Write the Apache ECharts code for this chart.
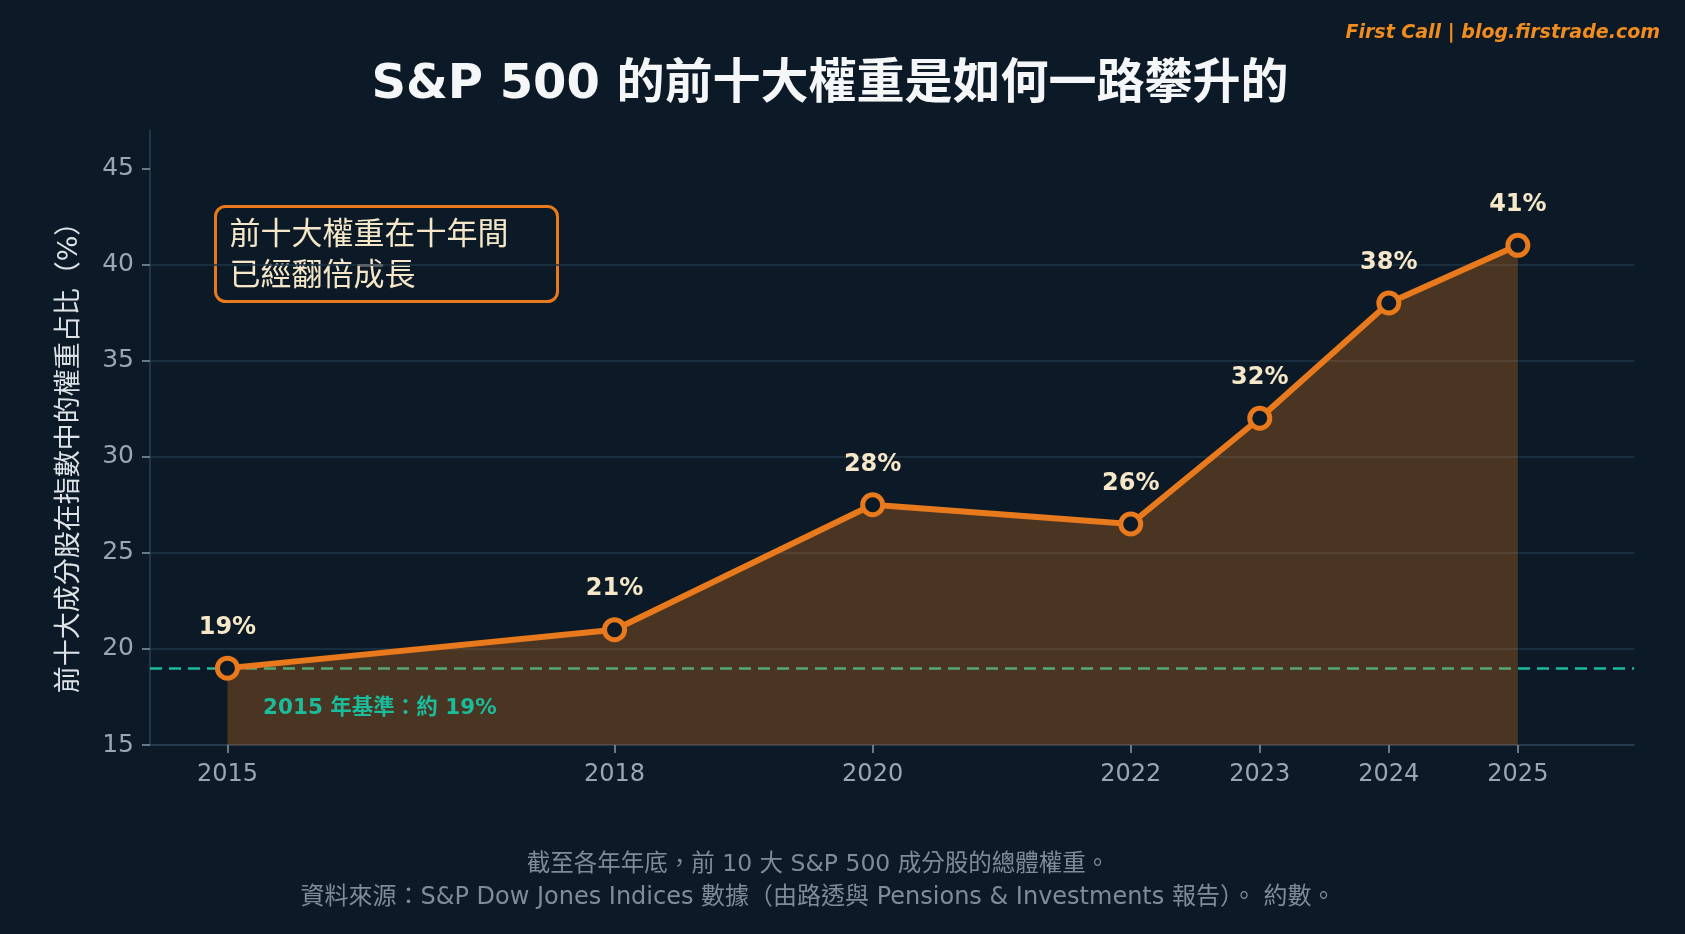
<!DOCTYPE html>
<html>
<head>
<meta charset="utf-8">
<script src="https://cdn.jsdelivr.net/npm/echarts@6/dist/echarts.min.js"></script>
<style>
  html, body { margin: 0; padding: 0; background: #0b1a26; }
  #main { width: 1685px; height: 934px; }
</style>
</head>
<body>
<div id="main"></div>
<script>
// 前十大成分股權重（年底，約數）
var years = [2015, 2018, 2020, 2022, 2023, 2024, 2025];
var weights = [19, 21, 27.5, 26.5, 32, 38, 41];
var pointLabels = ['19%', '21%', '28%', '26%', '32%', '38%', '41%'];
var yTicks = [15, 20, 25, 30, 35, 40, 45];
var baseline = 19;

var FONT = "'DejaVu Sans', 'Noto Sans CJK TC', sans-serif";
var ORANGE = '#e8791c';
var BG = '#0b1a26';

var myChart = echarts.init(document.getElementById('main'));

var option = {
  backgroundColor: BG,
  textStyle: { fontFamily: FONT },
  grid: { left: 150, right: 51, top: 130, bottom: 189 },
  xAxis: {
    type: 'value',
    min: 2014.4,
    max: 2025.9,
    axisLine: { lineStyle: { color: '#2b4053', width: 1.5 } },
    axisTick: { customValues: years, length: 8, lineStyle: { color: '#8a98a6', width: 1.5 } },
    axisLabel: {
      customValues: years,
      formatter: function (v) { return String(v); },
      color: '#9aa6b2', fontSize: 24, margin: 18, fontFamily: FONT
    },
    splitLine: { show: false }
  },
  yAxis: {
    type: 'value',
    min: 15,
    max: 47,
    interval: 5,
    axisLine: { show: true, lineStyle: { color: '#2b4053', width: 1.5 } },
    axisTick: { show: true, customValues: yTicks, length: 8, lineStyle: { color: '#8a98a6', width: 1.5 } },
    axisLabel: {
      customValues: yTicks,
      color: '#9aa6b2', fontSize: 25, margin: 16, fontFamily: FONT
    },
    splitLine: { show: true, showMaxLine: false, lineStyle: { color: '#1e3446', width: 1.5 } }
  },
  series: [{
    type: 'line',
    data: years.map(function (y, i) { return [y, weights[i]]; }),
    z: 2,
    lineStyle: { color: ORANGE, width: 6 },
    symbol: 'circle',
    symbolSize: 20,
    itemStyle: { color: BG, borderColor: ORANGE, borderWidth: 5 },
    areaStyle: { color: ORANGE, opacity: 0.29, origin: 'start' },
    label: {
      show: true,
      position: 'top',
      distance: 16,
      formatter: function (p) { return pointLabels[p.dataIndex]; },
      color: '#f6e7c8', fontSize: 24, fontWeight: 'bold', fontFamily: FONT
    },
    markLine: {
      z: 1,
      silent: true,
      symbol: 'none',
      label: { show: false },
      lineStyle: { color: '#1abc9c', width: 2.5, type: [12, 7] },
      data: [{ yAxis: baseline }]
    }
  }],
  graphic: [
    {
      type: 'text', x: 830, y: 86,
      style: { text: 'S&P 500 的前十大權重是如何一路攀升的', fill: '#f4f6f8',
        font: 'bold 48px ' + FONT, align: 'center', verticalAlign: 'middle' }
    },
    {
      type: 'text', x: 1660, y: 33,
      style: { text: 'First Call | blog.firstrade.com', fill: '#f28c1e',
        font: 'italic bold 19px ' + FONT, align: 'right', verticalAlign: 'middle' }
    },
    {
      type: 'text', x: 70, y: 451, rotation: Math.PI / 2,
      style: { text: '前十大成分股在指數中的權重占比（%）', fill: '#dde2e7',
        font: '27px ' + FONT, align: 'center', verticalAlign: 'middle' }
    },
    {
      type: 'group', left: 214, top: 205,
      children: [
        { type: 'rect', shape: { x: 0, y: 0, width: 342, height: 95, r: 10 },
          style: { fill: BG, stroke: ORANGE, lineWidth: 3 } },
        { type: 'text', x: 14, y: 9,
          style: { text: '前十大權重在十年間\n已經翻倍成長', fill: '#f6e7c8',
            font: '31px ' + FONT, lineHeight: 41 } }
      ]
    },
    {
      type: 'text', x: 263, y: 708, z: 100,
      style: { text: '2015 年基準：約 19%', fill: '#1abc9c', font: 'bold 21.5px ' + FONT,
        verticalAlign: 'middle' }
    },
    {
      type: 'text', x: 818, y: 865,
      style: { text: '截至各年年底，前 10 大 S&P 500 成分股的總體權重。', fill: '#7f8c98',
        font: '23.5px ' + FONT, align: 'center', verticalAlign: 'middle' }
    },
    {
      type: 'text', x: 818, y: 898,
      style: { text: '資料來源：S&P Dow Jones Indices 數據（由路透與 Pensions & Investments 報告）。 約數。', fill: '#7f8c98',
        font: '24px ' + FONT, align: 'center', verticalAlign: 'middle' }
    }
  ]
};

myChart.setOption(option);
</script>
</body>
</html>
